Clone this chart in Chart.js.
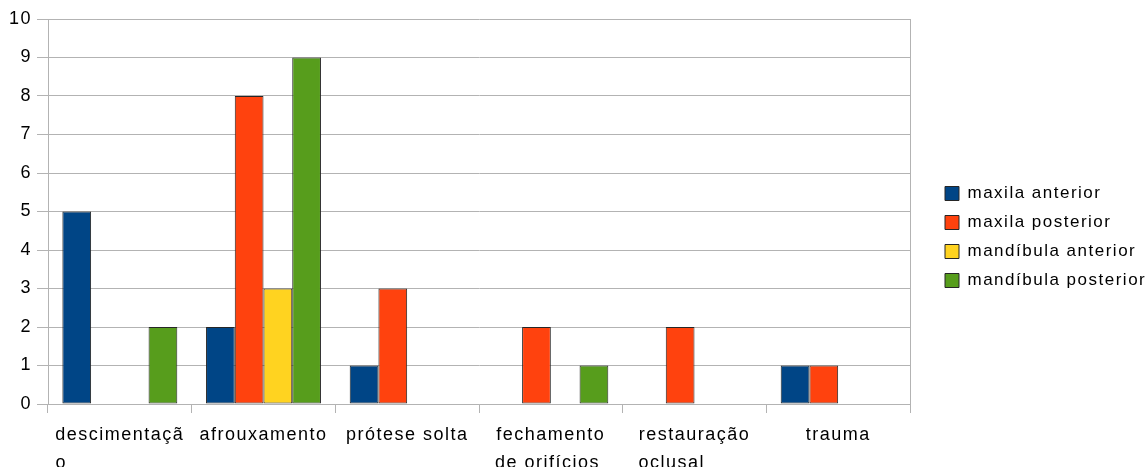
<!DOCTYPE html>
<html>
<head>
<meta charset="utf-8">
<script src="https://cdn.jsdelivr.net/npm/chart.js@4.4.1/dist/chart.umd.min.js"></script>
<style>
  html, body { margin: 0; padding: 0; background: #ffffff; }
  #wrap { width: 1146px; height: 467px; position: relative; }
</style>
</head>
<body>
<div id="wrap"><canvas id="chart"></canvas></div>
<script>
// Categories (multi-line labels wrap the same way as the axis text)
const categories = [
  ['descimentaçã', 'o'],
  'afrouxamento',
  'prótese solta',
  ['fechamento', 'de orifícios'],
  ['restauração', 'oclusal'],
  'trauma'
];

// Series names
const seriesNames = ['maxila anterior', 'maxila posterior', 'mandíbula anterior', 'mandíbula posterior'];

// Counts per category (null = no occurrences recorded)
const maxilaAnterior     = [5, 2, 1, null, null, 1];
const maxilaPosterior    = [null, 8, 3, 2, 2, 1];
const mandibulaAnterior  = [null, 3, null, null, null, null];
const mandibulaPosterior = [2, 9, null, 1, null, null];

// Value axis ticks
const yMin = 0;
const yMax = 10;
const yStep = 1;

// Palette
const seriesColors = ['#004586', '#ff420e', '#ffd320', '#579d1c'];
const BAR_BORDER = '#262626';
const GRID = '#b3b3b3';

const FONT_FAMILY = "'Liberation Sans', Arial, sans-serif";
const LETTER_SPACING = '1.5px';
const TICK_FONT_SIZE = 18;
const LEGEND_WIDTH = 236;
const LEGEND_DX = 23;
const LEGEND_DY = -6;

Chart.defaults.font.family = FONT_FAMILY;
Chart.defaults.color = '#000000';

// Slightly spaced lettering for all canvas text
const textSpacing = {
  id: 'textSpacing',
  beforeUpdate(chart) { chart.ctx.letterSpacing = LETTER_SPACING; },
  beforeDraw(chart) { chart.ctx.letterSpacing = LETTER_SPACING; }
};

// Legend keeps a fixed column width and its items sit a little away from the plot
const legendPlacement = {
  id: 'legendPlacement',
  beforeLayout(chart) {
    const lg = chart.legend;
    if (!lg || lg._placed) return;
    lg._placed = true;
    const fit = lg.fit.bind(lg);
    lg.fit = function () { fit(); this.width = LEGEND_WIDTH; };
    const draw = lg.draw.bind(lg);
    lg.draw = function () {
      const ctx = this.ctx;
      ctx.save();
      ctx.translate(LEGEND_DX, LEGEND_DY);
      draw();
      ctx.restore();
    };
  }
};

// Wrapped category labels are left-aligned inside their centred block:
// shorter lines are padded with no-break spaces to the longest line's width.
const measureCtx = document.createElement('canvas').getContext('2d');
function leftAlignLines(lines) {
  measureCtx.font = TICK_FONT_SIZE + 'px ' + FONT_FAMILY;
  measureCtx.letterSpacing = LETTER_SPACING;
  const widths = lines.map(l => measureCtx.measureText(l).width);
  const maxW = Math.max(...widths);
  const sp = measureCtx.measureText('\u00a0').width;
  return lines.map((l, i) => l + '\u00a0'.repeat(Math.max(0, Math.round((maxW - widths[i]) / sp))));
}

const seriesValues = [maxilaAnterior, maxilaPosterior, mandibulaAnterior, mandibulaPosterior];

const datasets = seriesNames.map((name, i) => ({
  label: name,
  data: seriesValues[i],
  backgroundColor: seriesColors[i],
  borderColor: BAR_BORDER,
  borderWidth: 1,
  borderSkipped: false,
  categoryPercentage: 0.8,
  barPercentage: 1.0
}));

new Chart(document.getElementById('chart'), {
  type: 'bar',
  data: { labels: categories, datasets },
  options: {
    responsive: true,
    maintainAspectRatio: false,
    animation: false,
    layout: { padding: { top: 19, left: 0, right: 0, bottom: 0 } },
    plugins: {
      tooltip: { enabled: false },
      legend: {
        position: 'right',
        align: 'center',
        labels: {
          boxWidth: 14,
          boxHeight: 14,
          padding: 12,
          color: '#000000',
          font: { size: 17 }
        }
      }
    },
    scales: {
      x: {
        grid: { color: GRID, drawOnChartArea: false, tickLength: 9, offset: true },
        border: { color: GRID },
        ticks: {
          color: '#000000',
          font: { size: TICK_FONT_SIZE, lineHeight: 1.56 },
          padding: 8,
          maxRotation: 0,
          autoSkip: false,
          callback(value, index) {
            const lab = categories[index];
            return Array.isArray(lab) ? leftAlignLines(lab) : lab;
          }
        },
        afterFit(scale) { scale.height = 63; }
      },
      y: {
        min: yMin,
        max: yMax,
        ticks: { stepSize: yStep, color: '#000000', font: { size: TICK_FONT_SIZE }, padding: 5 },
        grid: { color: GRID, tickLength: 11 },
        border: { color: GRID },
        afterFit(scale) { scale.width = 48; }
      },
      yRight: {
        type: 'linear',
        position: 'right',
        min: yMin,
        max: yMax,
        ticks: { display: false },
        grid: { display: false, drawTicks: false },
        border: { display: true, color: GRID },
        afterFit(scale) { scale.width = 0; }
      }
    }
  },
  plugins: [textSpacing, legendPlacement]
});
</script>
</body>
</html>
